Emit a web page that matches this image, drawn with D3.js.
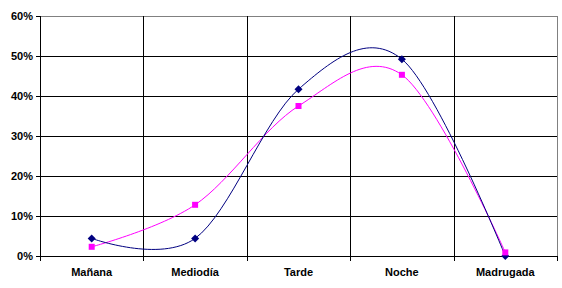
<!DOCTYPE html>
<html><head><meta charset="utf-8">
<script src="https://cdn.jsdelivr.net/npm/d3@7/dist/d3.min.js"></script>
<style>body{margin:0;background:#fff}svg{display:block}text{font-family:"Liberation Sans",Arial,sans-serif;font-weight:bold;font-size:11px;fill:#000}</style>
</head><body><svg id="c" width="562" height="288"></svg>
<script>
const categories = ["Mañana","Mediodía","Tarde","Noche","Madrugada"];
const seriesA = [4.4, 4.4, 41.7, 49.2, 0.0];   // navy, diamonds
const seriesB = [2.3, 12.8, 37.5, 45.3, 0.9];  // magenta, squares
const yTicks = [0,10,20,30,40,50,60];

const svg = d3.select("#c");
const L=40, R=557, T=16, B=256;
const x = d3.scaleBand().domain(categories).range([L,R]);
const y = d3.scaleLinear().domain([0,60]).range([B,T]);
const px = v => Math.round(v)+0.5;

const grid = svg.append("g").attr("shape-rendering","crispEdges");
grid.selectAll(".h").data(yTicks.slice(1)).join("line").attr("class","h")
  .attr("x1",L).attr("x2",R+1).attr("y1",d=>px(y(d))).attr("y2",d=>px(y(d)))
  .attr("stroke",d=>d===60?"#808080":"#000");
const bounds = categories.map(c=>x(c)).concat([R]);
grid.selectAll(".v").data(bounds.slice(1)).join("line").attr("class","v")
  .attr("x1",d=>px(d)).attr("x2",d=>px(d)).attr("y1",T).attr("y2",B)
  .attr("stroke",(d,i)=>i===bounds.length-2?"#808080":"#000");

// y axis
const ya = d3.axisLeft(y).tickValues(yTicks).tickFormat(d=>d+"%").tickSize(0).tickPadding(7);
const gy = svg.append("g").call(ya);
gy.select(".domain").remove();
gy.selectAll(".tick").attr("transform",d=>`translate(${L},${px(y(d))})`);
gy.selectAll(".tick").append("line").attr("x1",-4).attr("x2",0).attr("stroke","#000").attr("shape-rendering","crispEdges");
gy.selectAll("text").attr("dy","0.35em");
svg.append("line").attr("x1",px(L)).attr("x2",px(L)).attr("y1",T).attr("y2",B+1).attr("stroke","#000").attr("shape-rendering","crispEdges");

// x axis
const gx = svg.append("g");
gx.append("line").attr("x1",L).attr("x2",R+1).attr("y1",px(B)).attr("y2",px(B)).attr("stroke","#000").attr("shape-rendering","crispEdges");
gx.selectAll(".tk").data(bounds).join("line").attr("class","tk")
  .attr("x1",d=>px(d)).attr("x2",d=>px(d)).attr("y1",B).attr("y2",B+5).attr("stroke","#000").attr("shape-rendering","crispEdges");
gx.selectAll("text").data(categories).join("text")
  .attr("x",d=>x(d)+x.bandwidth()/2).attr("y",B+19.5).attr("text-anchor","middle").text(d=>d);

const cx = i => x(categories[i])+x.bandwidth()/2;
const line = d3.line().x((d,i)=>cx(i)).y(d=>y(d)).curve(d3.curveCardinal.tension(0));

svg.append("path").attr("d",line(seriesB)).attr("fill","none").attr("stroke","#ff00ff").attr("stroke-width",1);
svg.append("path").attr("d",line(seriesA)).attr("fill","none").attr("stroke","#000080").attr("stroke-width",1);

svg.append("g").selectAll("path").data(seriesA).join("path")
  .attr("transform",(d,i)=>`translate(${cx(i)},${y(d)})`)
  .attr("d","M0,-4L4,0L0,4L-4,0Z").attr("fill","#000080");
svg.append("g").selectAll("rect").data(seriesB).join("rect")
  .attr("x",(d,i)=>cx(i)-3).attr("y",d=>y(d)-3)
  .attr("width",6).attr("height",6).attr("fill","#ff00ff");
</script></body></html>
